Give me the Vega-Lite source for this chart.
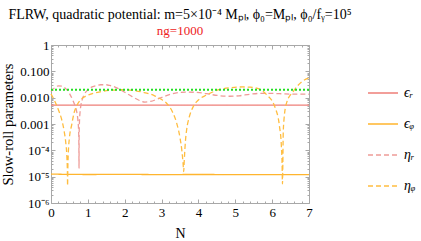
{
  "$schema": "https://vega.github.io/schema/vega-lite/v6.json",
  "width": 258,
  "height": 158,
  "autosize": {"type": "none"},
  "padding": {"left": 51, "top": 45, "right": 112, "bottom": 38},
  "background": "white",
  "view": {"stroke": null},
  "title": {
    "text": "FLRW, quadratic potential: m=5×10⁻⁴ Mₚₗ, ϕ₀=Mₚₗ, ϕ₀/fᵧ=10⁵",
    "subtitle": "ng=1000",
    "font": "Liberation Serif",
    "fontSize": 14,
    "fontWeight": "normal",
    "color": "black",
    "subtitleFont": "Liberation Serif",
    "subtitleFontSize": 13,
    "subtitleColor": "#ee2222",
    "subtitlePadding": 3,
    "frame": "group",
    "anchor": "middle",
    "offset": 1
  },
  "data": {
    "values": [
      {"N": 0, "v": 0.0052, "s": "ϵᵣ"}, {"N": 1, "v": 0.0052, "s": "ϵᵣ"}, {"N": 2, "v": 0.0052, "s": "ϵᵣ"}, {"N": 3, "v": 0.0052, "s": "ϵᵣ"},
      {"N": 4, "v": 0.0052, "s": "ϵᵣ"}, {"N": 5, "v": 0.0052, "s": "ϵᵣ"}, {"N": 6, "v": 0.0052, "s": "ϵᵣ"}, {"N": 7, "v": 0.0052, "s": "ϵᵣ"},
      {"N": 0, "v": 1.25e-5, "s": "ϵᵩ"}, {"N": 1, "v": 1.21e-5, "s": "ϵᵩ"}, {"N": 2, "v": 1.22e-5, "s": "ϵᵩ"}, {"N": 3, "v": 1.2e-5, "s": "ϵᵩ"},
      {"N": 4, "v": 1.21e-5, "s": "ϵᵩ"}, {"N": 5, "v": 1.2e-5, "s": "ϵᵩ"}, {"N": 6, "v": 1.2e-5, "s": "ϵᵩ"}, {"N": 7, "v": 1.19e-5, "s": "ϵᵩ"},
      {"N": 0, "v": 0.017, "s": "ηᵣ"}, {"N": 0.1, "v": 0.024, "s": "ηᵣ"}, {"N": 0.2, "v": 0.028, "s": "ηᵣ"}, {"N": 0.3, "v": 0.0275, "s": "ηᵣ"},
      {"N": 0.4, "v": 0.022, "s": "ηᵣ"}, {"N": 0.5, "v": 0.0145, "s": "ηᵣ"}, {"N": 0.6, "v": 0.0075, "s": "ηᵣ"}, {"N": 0.65, "v": 0.005, "s": "ηᵣ"},
      {"N": 0.7, "v": 0.0028, "s": "ηᵣ"}, {"N": 0.73, "v": 0.0014, "s": "ηᵣ"}, {"N": 0.75, "v": 0.0005, "s": "ηᵣ"}, {"N": 0.757, "v": 0.00015, "s": "ηᵣ"},
      {"N": 0.76, "v": 2.1e-5, "s": "ηᵣ"}, {"N": 0.763, "v": 0.0003, "s": "ηᵣ"}, {"N": 0.77, "v": 0.001, "s": "ηᵣ"}, {"N": 0.79, "v": 0.003, "s": "ηᵣ"},
      {"N": 0.81, "v": 0.005, "s": "ηᵣ"}, {"N": 0.85, "v": 0.0088, "s": "ηᵣ"}, {"N": 0.9, "v": 0.013, "s": "ηᵣ"}, {"N": 1.0, "v": 0.02, "s": "ηᵣ"},
      {"N": 1.1, "v": 0.025, "s": "ηᵣ"}, {"N": 1.2, "v": 0.028, "s": "ηᵣ"}, {"N": 1.35, "v": 0.031, "s": "ηᵣ"}, {"N": 1.5, "v": 0.031, "s": "ηᵣ"},
      {"N": 1.6, "v": 0.029, "s": "ηᵣ"}, {"N": 1.8, "v": 0.023, "s": "ηᵣ"}, {"N": 2.0, "v": 0.016, "s": "ηᵣ"}, {"N": 2.2, "v": 0.011, "s": "ηᵣ"},
      {"N": 2.4, "v": 0.0078, "s": "ηᵣ"}, {"N": 2.55, "v": 0.0068, "s": "ηᵣ"}, {"N": 2.7, "v": 0.0072, "s": "ηᵣ"}, {"N": 2.9, "v": 0.009, "s": "ηᵣ"},
      {"N": 3.1, "v": 0.0115, "s": "ηᵣ"}, {"N": 3.3, "v": 0.0142, "s": "ηᵣ"}, {"N": 3.5, "v": 0.0158, "s": "ηᵣ"}, {"N": 3.7, "v": 0.0163, "s": "ηᵣ"},
      {"N": 3.9, "v": 0.016, "s": "ηᵣ"}, {"N": 4.1, "v": 0.0152, "s": "ηᵣ"}, {"N": 4.3, "v": 0.0135, "s": "ηᵣ"}, {"N": 4.6, "v": 0.0118, "s": "ηᵣ"},
      {"N": 4.85, "v": 0.0113, "s": "ηᵣ"}, {"N": 5.1, "v": 0.0118, "s": "ηᵣ"}, {"N": 5.4, "v": 0.0135, "s": "ηᵣ"}, {"N": 5.7, "v": 0.0146, "s": "ηᵣ"},
      {"N": 6.0, "v": 0.0145, "s": "ηᵣ"}, {"N": 6.3, "v": 0.014, "s": "ηᵣ"}, {"N": 6.6, "v": 0.0136, "s": "ηᵣ"}, {"N": 7.0, "v": 0.0135, "s": "ηᵣ"},
      {"N": 0, "v": 0.014, "s": "ηᵩ"}, {"N": 0.1, "v": 0.0075, "s": "ηᵩ"}, {"N": 0.2, "v": 0.0035, "s": "ηᵩ"}, {"N": 0.3, "v": 0.0013, "s": "ηᵩ"},
      {"N": 0.36, "v": 0.0005, "s": "ηᵩ"}, {"N": 0.4, "v": 0.0002, "s": "ηᵩ"}, {"N": 0.43, "v": 6e-5, "s": "ηᵩ"}, {"N": 0.445, "v": 1.5e-5, "s": "ηᵩ"},
      {"N": 0.45, "v": 4.5e-6, "s": "ηᵩ"}, {"N": 0.455, "v": 1.5e-5, "s": "ηᵩ"}, {"N": 0.47, "v": 8e-5, "s": "ηᵩ"}, {"N": 0.5, "v": 0.0003, "s": "ηᵩ"},
      {"N": 0.56, "v": 0.0009, "s": "ηᵩ"}, {"N": 0.63, "v": 0.0028, "s": "ηᵩ"}, {"N": 0.7, "v": 0.005, "s": "ηᵩ"}, {"N": 0.8, "v": 0.0082, "s": "ηᵩ"},
      {"N": 0.92, "v": 0.011, "s": "ηᵩ"}, {"N": 1.1, "v": 0.014, "s": "ηᵩ"}, {"N": 1.37, "v": 0.017, "s": "ηᵩ"}, {"N": 1.6, "v": 0.019, "s": "ηᵩ"},
      {"N": 1.9, "v": 0.02, "s": "ηᵩ"}, {"N": 2.2, "v": 0.019, "s": "ηᵩ"}, {"N": 2.5, "v": 0.016, "s": "ηᵩ"}, {"N": 2.8, "v": 0.012, "s": "ηᵩ"},
      {"N": 3.0, "v": 0.0085, "s": "ηᵩ"}, {"N": 3.13, "v": 0.0063, "s": "ηᵩ"}, {"N": 3.3, "v": 0.0028, "s": "ηᵩ"}, {"N": 3.4, "v": 0.0012, "s": "ηᵩ"},
      {"N": 3.5, "v": 0.0003, "s": "ηᵩ"}, {"N": 3.55, "v": 0.0001, "s": "ηᵩ"}, {"N": 3.585, "v": 3e-5, "s": "ηᵩ"}, {"N": 3.6, "v": 1.55e-5, "s": "ηᵩ"},
      {"N": 3.615, "v": 4e-5, "s": "ηᵩ"}, {"N": 3.65, "v": 0.00025, "s": "ηᵩ"}, {"N": 3.68, "v": 0.0006, "s": "ηᵩ"}, {"N": 3.75, "v": 0.0018, "s": "ηᵩ"},
      {"N": 3.86, "v": 0.0046, "s": "ηᵩ"}, {"N": 4.0, "v": 0.0082, "s": "ηᵩ"}, {"N": 4.22, "v": 0.0126, "s": "ηᵩ"}, {"N": 4.58, "v": 0.0205, "s": "ηᵩ"},
      {"N": 4.9, "v": 0.024, "s": "ηᵩ"}, {"N": 5.2, "v": 0.0255, "s": "ηᵩ"}, {"N": 5.4, "v": 0.025, "s": "ηᵩ"}, {"N": 5.66, "v": 0.021, "s": "ηᵩ"},
      {"N": 5.85, "v": 0.013, "s": "ηᵩ"}, {"N": 6.07, "v": 0.0046, "s": "ηᵩ"}, {"N": 6.2, "v": 0.0008, "s": "ηᵩ"}, {"N": 6.25, "v": 0.00015, "s": "ηᵩ"},
      {"N": 6.27, "v": 3e-5, "s": "ηᵩ"}, {"N": 6.28, "v": 5.3e-6, "s": "ηᵩ"}, {"N": 6.29, "v": 3e-5, "s": "ηᵩ"}, {"N": 6.3, "v": 0.0004, "s": "ηᵩ"},
      {"N": 6.32, "v": 0.0014, "s": "ηᵩ"}, {"N": 6.39, "v": 0.0062, "s": "ηᵩ"}, {"N": 6.57, "v": 0.017, "s": "ηᵩ"}, {"N": 6.84, "v": 0.044, "s": "ηᵩ"},
      {"N": 7.0, "v": 0.056, "s": "ηᵩ"},
      {"N": 0, "v": 0.0198, "s": "ref"}, {"N": 3.5, "v": 0.0198, "s": "ref"}, {"N": 7, "v": 0.0198, "s": "ref"}
    ]
  },
  "resolve": {"axis": {"x": "independent", "y": "independent"}},
  "layer": [
    {
      "transform": [{"filter": "datum.s !== 'ref'"}],
      "mark": {"type": "line", "strokeWidth": 1.3, "interpolate": "monotone"},
      "encoding": {
        "x": {
          "field": "N", "type": "quantitative",
          "scale": {"domain": [0, 7], "nice": false, "zero": false},
          "axis": {
            "orient": "bottom",
            "values": [0,0.2,0.4,0.6,0.8,1,1.2,1.4,1.6,1.8,2,2.2,2.4,2.6,2.8,3,3.2,3.4,3.6,3.8,4,4.2,4.4,4.6,4.8,5,5.2,5.4,5.6,5.8,6,6.2,6.4,6.6,6.8,7],
            "labelExpr": "datum.value % 1 === 0 ? format(datum.value, 'd') : ''",
            "labelOverlap": false,
            "labelFlush": false,
            "tickSize": {"condition": {"test": "datum.value % 1 === 0", "value": -4}, "value": -2},
            "labelPadding": 7,
            "labelFont": "Liberation Serif", "labelFontSize": 13, "labelColor": "black",
            "domainColor": "#a8a8a8", "tickColor": "#a8a8a8", "grid": false,
            "title": "N", "titleFont": "Liberation Serif", "titleFontSize": 14, "titleFontWeight": "normal", "titleColor": "black", "titlePadding": 5
          }
        },
        "y": {
          "field": "v", "type": "quantitative",
          "scale": {"type": "log", "domain": [0.000001, 1], "nice": false},
          "axis": {
            "orient": "left",
            "values": [1e-6,2e-6,3e-6,4e-6,5e-6,6e-6,7e-6,8e-6,9e-6,1e-5,2e-5,3e-5,4e-5,5e-5,6e-5,7e-5,8e-5,9e-5,1e-4,2e-4,3e-4,4e-4,5e-4,6e-4,7e-4,8e-4,9e-4,0.001,0.002,0.003,0.004,0.005,0.006,0.007,0.008,0.009,0.01,0.02,0.03,0.04,0.05,0.06,0.07,0.08,0.09,0.1,0.2,0.3,0.4,0.5,0.6,0.7,0.8,0.9,1],
            "labelExpr": "datum.value == 1 ? '1' : datum.value == 0.1 ? '0.100' : datum.value == 0.01 ? '0.010' : datum.value == 0.001 ? '0.001' : datum.value == 0.0001 ? '10⁻⁴' : datum.value == 0.00001 ? '10⁻⁵' : datum.value == 0.000001 ? '10⁻⁶' : ''",
            "labelOverlap": false,
            "labelFlush": false,
            "tickSize": {"condition": {"test": "indexof([1,0.1,0.01,0.001,0.0001,0.00001,0.000001], datum.value) >= 0", "value": -4}, "value": -2},
            "labelPadding": 6,
            "labelFont": "Liberation Serif", "labelFontSize": 13, "labelColor": "black",
            "domainColor": "#a8a8a8", "tickColor": "#a8a8a8", "grid": false,
            "title": "Slow-roll parameters", "titleFont": "Liberation Serif", "titleFontSize": 14.5, "titleFontWeight": "normal", "titleColor": "black", "titlePadding": 4
          }
        },
        "color": {
          "field": "s", "type": "nominal",
          "scale": {"domain": ["ϵᵣ", "ϵᵩ", "ηᵣ", "ηᵩ"], "range": ["#ee7f78", "#ffb52e", "#ee9c98", "#ffbd40"]},
          "legend": {"orient": "none", "legendX": 316, "legendY": 32, "title": null, "symbolType": "stroke", "symbolSize": 900, "symbolStrokeWidth": 1.5, "labelFont": "Liberation Serif", "labelFontStyle": "italic", "labelFontSize": 14, "labelColor": "black", "labelOffset": 5, "rowPadding": 8}
        },
        "strokeDash": {
          "field": "s", "type": "nominal",
          "scale": {"domain": ["ϵᵣ", "ϵᵩ", "ηᵣ", "ηᵩ"], "range": [[1, 0], [1, 0], [5, 3], [5, 3]]},
          "legend": {"orient": "none", "legendX": 316, "legendY": 32, "title": null, "symbolType": "stroke", "symbolSize": 900, "symbolStrokeWidth": 1.5, "labelFont": "Liberation Serif", "labelFontStyle": "italic", "labelFontSize": 14, "labelColor": "black", "labelOffset": 5, "rowPadding": 8}
        }
      }
    },
    {
      "transform": [{"filter": "datum.s === 'ref'"}],
      "mark": {"type": "line", "color": "#22e022", "strokeWidth": 2, "strokeDash": [2, 2]},
      "encoding": {
        "x": {"field": "N", "type": "quantitative", "axis": null},
        "y": {"field": "v", "type": "quantitative", "axis": null}
      }
    },
    {
      "transform": [{"filter": "datum.s === 'ref'"}],
      "mark": {"type": "line", "opacity": 0},
      "encoding": {
        "x": {
          "field": "N", "type": "quantitative",
          "axis": {
            "orient": "top",
            "values": [0,0.2,0.4,0.6,0.8,1,1.2,1.4,1.6,1.8,2,2.2,2.4,2.6,2.8,3,3.2,3.4,3.6,3.8,4,4.2,4.4,4.6,4.8,5,5.2,5.4,5.6,5.8,6,6.2,6.4,6.6,6.8,7],
            "labels": false, "title": null, "grid": false,
            "tickSize": {"condition": {"test": "datum.value % 1 === 0", "value": -4}, "value": -2},
            "domainColor": "#a8a8a8", "tickColor": "#a8a8a8"
          }
        },
        "y": {
          "field": "v", "type": "quantitative",
          "axis": {
            "orient": "right",
            "values": [1e-6,2e-6,3e-6,4e-6,5e-6,6e-6,7e-6,8e-6,9e-6,1e-5,2e-5,3e-5,4e-5,5e-5,6e-5,7e-5,8e-5,9e-5,1e-4,2e-4,3e-4,4e-4,5e-4,6e-4,7e-4,8e-4,9e-4,0.001,0.002,0.003,0.004,0.005,0.006,0.007,0.008,0.009,0.01,0.02,0.03,0.04,0.05,0.06,0.07,0.08,0.09,0.1,0.2,0.3,0.4,0.5,0.6,0.7,0.8,0.9,1],
            "labels": false, "title": null, "grid": false,
            "tickSize": {"condition": {"test": "indexof([1,0.1,0.01,0.001,0.0001,0.00001,0.000001], datum.value) >= 0", "value": -4}, "value": -2},
            "domainColor": "#a8a8a8", "tickColor": "#a8a8a8"
          }
        }
      }
    }
  ]
}
